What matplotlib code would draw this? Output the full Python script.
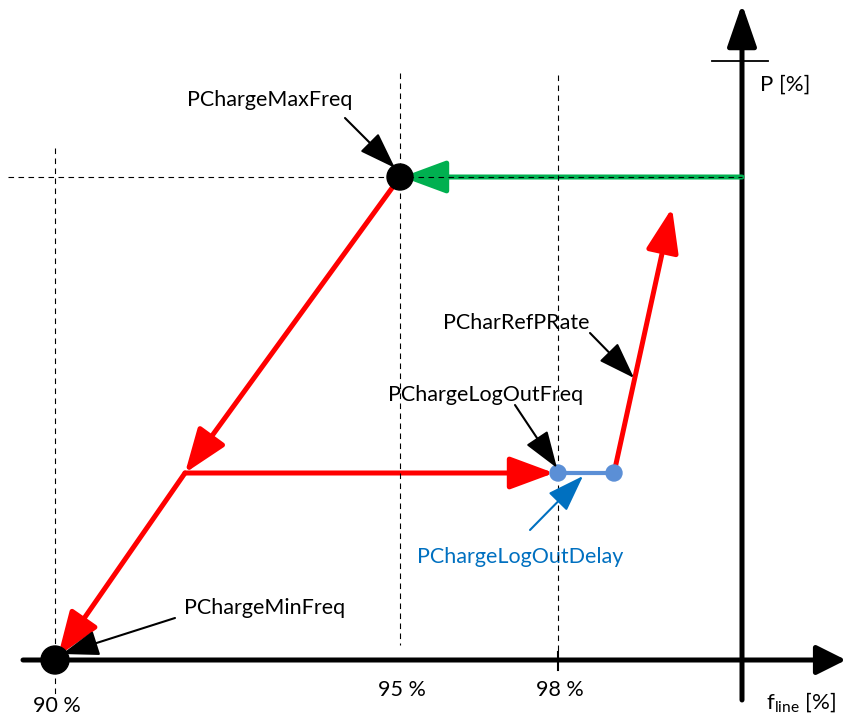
import matplotlib.pyplot as plt
from matplotlib.patches import Circle

plt.rcParams['font.family'] = ['Lato', 'DejaVu Sans']

# diagram canvas is 848 x 720, y grows downwards
# frequency positions on the f axis
freq_labels = ['90 %', '95 %', '98 %']
freq_x = [55, 400, 558]
x_axis_y = 660
p_axis_x = 742

# power levels
p_max_y = 177
p_mid_y = 473

# characteristic points
max_pt = (freq_x[1], p_max_y)
min_pt = (freq_x[0], x_axis_y)
knee_pt = (185, p_mid_y)
logout_pt = (freq_x[2], p_mid_y)
delay_pt = (614, p_mid_y)
ramp_end = (672, 208)

# annotation texts: (label, text xy, arrow start, arrow end, colour)
notes = [
    ('PChargeMaxFreq', (187, 100), (345, 118), (395, 168), 'black'),
    ('PCharRefPRate', (443, 323), (590, 333), (634, 378), 'black'),
    ('PChargeLogOutFreq', (388, 395), (515, 405), (557, 468), 'black'),
    ('PChargeLogOutDelay', (417, 557), (530, 530), (583, 476), '#0070C0'),
]

red = '#FF0000'
fig = plt.figure(figsize=(8.48, 7.2), dpi=100)
ax = fig.add_axes([0, 0, 1, 1])
ax.set_xlim(0, 848)
ax.set_ylim(720, 0)
ax.axis('off')


def arrow(p0, p1, color, lw, hl, hw, z=3):
    ax.annotate('', xy=p1, xytext=p0,
                arrowprops=dict(arrowstyle='-|>,head_length=%s,head_width=%s' % (hl, hw),
                                color=color, lw=lw, shrinkA=0, shrinkB=0,
                                mutation_scale=10), zorder=z)


# dashed guide lines
dash = dict(color='black', lw=0.8, ls=(0, (5, 4)), zorder=4)
ax.plot([freq_x[0], freq_x[0]], [148, 700], **dash)
ax.plot([freq_x[1], freq_x[1]], [73, 645], **dash)
ax.plot([freq_x[2], freq_x[2]], [75, 652], **dash)
ax.plot([8, p_axis_x], [p_max_y, p_max_y], **dash)

# axes
arrow((23, x_axis_y), (846, x_axis_y), 'black', 3.6, 1.8, 0.9, z=2)
arrow((p_axis_x, 700), (p_axis_x, 4), 'black', 3.6, 2.6, 0.9, z=2)
ax.plot([712, 768], [61, 61], color='black', lw=1.3)
ax.plot([freq_x[2], freq_x[2]], [652, 670], color='black', lw=1.5)

# green arrow
arrow((p_axis_x, p_max_y), (max_pt[0] + 2, p_max_y), '#00B050', 3.6, 2.7, 1.0)

# red characteristic
arrow(max_pt, knee_pt, red, 3.6, 2.7, 1.0)
arrow(knee_pt, (min_pt[0] + 3, min_pt[1] - 4), red, 3.6, 2.7, 1.0)
arrow(knee_pt, (logout_pt[0] - 4, p_mid_y), red, 3.6, 2.7, 1.0)
arrow(delay_pt, ramp_end, red, 3.6, 2.7, 1.0)

# blue delay segment
ax.plot([logout_pt[0], delay_pt[0]], [p_mid_y, p_mid_y], color='#5B8FD6', lw=3, zorder=5)
for pt in (logout_pt, delay_pt):
    ax.add_patch(Circle(pt, 8, color='#5B8FD6', zorder=6))

# black points
ax.add_patch(Circle(max_pt, 13, color='black', zorder=5))
ax.add_patch(Circle(min_pt, 14, color='black', zorder=5))

# annotations
for text, txy, a0, a1, col in notes:
    ax.text(txy[0], txy[1], text, color=col, fontsize=15.5, ha='left', va='center')
    arrow(a0, a1, col, 1.5, 2.3, 0.8, z=7)

ax.text(184, 608, 'PChargeMinFreq', fontsize=15.5, ha='left', va='center')
arrow((175, 618), (62, 654), 'black', 1.5, 2.3, 0.8, z=7)

# tick labels
ax.text(freq_x[0] + 2, 706, freq_labels[0], fontsize=15.5, ha='center', va='center')
ax.text(freq_x[1] + 2, 690, freq_labels[1], fontsize=15.5, ha='center', va='center')
ax.text(freq_x[2] + 2, 690, freq_labels[2], fontsize=15.5, ha='center', va='center')
ax.text(760, 85, 'P [%]', fontsize=16, ha='left', va='center')
ax.text(766, 703, r'f$_{\mathregular{line}}$ [%]', fontsize=16, ha='left', va='center')

fig.savefig('out.png', dpi=100)
